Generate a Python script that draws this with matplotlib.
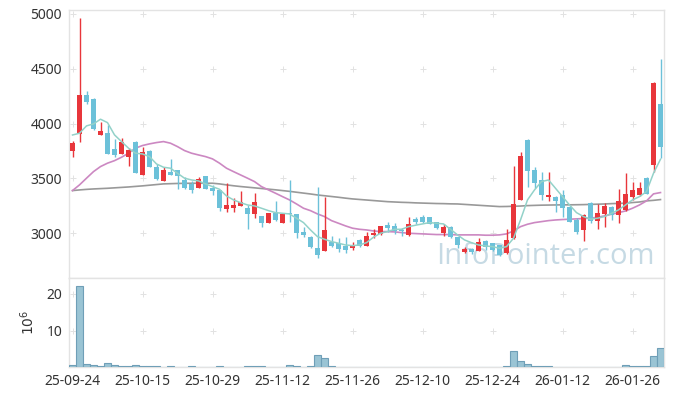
import matplotlib
matplotlib.use("Agg")
import matplotlib.pyplot as plt
import numpy as np

plt.rcParams['font.family'] = ['Noto Sans', 'DejaVu Sans']

dates = ["25-09-24", "25-09-25", "25-09-26", "25-09-29", "25-09-30",
         "25-10-01", "25-10-02", "25-10-10", "25-10-13", "25-10-14",
         "25-10-15", "25-10-16", "25-10-17", "25-10-20", "25-10-21",
         "25-10-22", "25-10-23", "25-10-24", "25-10-27", "25-10-28",
         "25-10-29", "25-10-30", "25-10-31", "25-11-03", "25-11-04",
         "25-11-05", "25-11-06", "25-11-07", "25-11-10", "25-11-11",
         "25-11-12", "25-11-13", "25-11-14", "25-11-17", "25-11-18",
         "25-11-19", "25-11-20", "25-11-21", "25-11-24", "25-11-25",
         "25-11-26", "25-11-27", "25-11-28", "25-12-01", "25-12-02",
         "25-12-03", "25-12-04", "25-12-05", "25-12-08", "25-12-09",
         "25-12-10", "25-12-11", "25-12-12", "25-12-15", "25-12-16",
         "25-12-17", "25-12-18", "25-12-19", "25-12-22", "25-12-23",
         "25-12-24", "25-12-26", "25-12-29", "25-12-30", "26-01-02",
         "26-01-05", "26-01-06", "26-01-07", "26-01-08", "26-01-09",
         "26-01-12", "26-01-13", "26-01-14", "26-01-15", "26-01-16",
         "26-01-19", "26-01-20", "26-01-21", "26-01-22", "26-01-23",
         "26-01-26", "26-01-27", "26-01-28", "26-01-29", "26-01-30"]

opens = [3754, 3903, 4259, 4225, 3900, 3915, 3766, 3726, 3699, 3830,
         3535, 3751, 3605, 3480, 3559, 3578, 3486, 3450, 3416, 3523,
         3411, 3395, 3222, 3234, 3249, 3231, 3179, 3158, 3097, 3188,
         3097, 3186, 3176, 3015, 2969, 2863, 2838, 2924, 2909, 2884,
         2869, 2942, 2887, 2982, 2991, 3076, 3067, 3030, 2985, 3130,
         3152, 3146, 3100, 3000, 3058, 2964, 2827, 2858, 2841, 2930,
         2909, 2890, 2818, 2954, 3304, 3851, 3578, 3486, 3328, 3334,
         3349, 3240, 3125, 3030, 3279, 3115, 3176, 3240, 3170, 3213,
         3328, 3352, 3505, 3626, 4180]
highs = [3840, 4962, 4298, 4230, 4018, 3988, 3858, 3867, 3776, 3842,
         3785, 3755, 3635, 3602, 3675, 3580, 3511, 3477, 3511, 3525,
         3441, 3398, 3456, 3319, 3389, 3258, 3365, 3160, 3185, 3297,
         3180, 3484, 3180, 3060, 2972, 3420, 3334, 2978, 2954, 2969,
         2924, 2945, 3015, 3036, 3070, 3106, 3097, 3050, 3152, 3152,
         3165, 3150, 3105, 3085, 3062, 2968, 2878, 2868, 2954, 2940,
         2915, 2895, 3036, 3610, 3742, 3855, 3602, 3562, 3556, 3340,
         3390, 3245, 3135, 3175, 3282, 3267, 3279, 3245, 3401, 3547,
         3471, 3471, 3510, 4380, 4588]
lows = [3695, 3836, 4177, 3945, 3898, 3720, 3699, 3720, 3614, 3545,
        3530, 3600, 3484, 3475, 3530, 3401, 3401, 3365, 3410, 3400,
        3349, 3206, 3192, 3197, 3245, 3039, 3142, 3055, 3095, 3115,
        3094, 3106, 2954, 2969, 2863, 2772, 2835, 2875, 2832, 2818,
        2848, 2878, 2885, 2960, 2988, 3015, 2994, 2975, 2975, 3082,
        3094, 3080, 3036, 2975, 2960, 2863, 2820, 2811, 2838, 2845,
        2835, 2795, 2815, 2950, 3300, 3425, 3410, 3304, 3297, 3197,
        3152, 3100, 2990, 2928, 3090, 3036, 3060, 3120, 3091, 3205,
        3300, 3340, 3360, 3558, 3690]
closes = [3827, 4262, 4201, 3949, 3933, 3726, 3714, 3833, 3763, 3553,
          3739, 3608, 3495, 3580, 3535, 3523, 3416, 3395, 3493, 3407,
          3386, 3234, 3258, 3258, 3286, 3179, 3286, 3097, 3182, 3121,
          3176, 3178, 3005, 2985, 2878, 2802, 3030, 2884, 2860, 2848,
          2884, 2885, 2975, 3000, 3067, 3051, 3024, 3018, 3085, 3103,
          3106, 3088, 3050, 3055, 2967, 2893, 2860, 2832, 2918, 2872,
          2850, 2802, 2939, 3267, 3708, 3571, 3462, 3349, 3349, 3297,
          3234, 3106, 3015, 3167, 3115, 3185, 3249, 3170, 3296, 3359,
          3395, 3416, 3362, 4374, 3790]

ma5 = [3896, 3912, 3979, 3997, 4040, 4009, 3897, 3836, 3776, 3730,
       3723, 3699, 3632, 3602, 3593, 3547, 3502, 3486, 3477, 3450,
       3425, 3401, 3340, 3304, 3279, 3258, 3249, 3228, 3206, 3188,
       3182, 3176, 3137, 3097, 3030, 2969, 2945, 2924, 2909, 2893,
       2887, 2893, 2914, 2964, 3000, 3015, 3036, 3036, 3060, 3073,
       3085, 3097, 3091, 3085, 3036, 2985, 2939, 2914, 2893, 2884,
       2878, 2863, 2878, 2954, 3121, 3304, 3395, 3471, 3486, 3410,
       3334, 3258, 3188, 3152, 3128, 3137, 3152, 3182, 3213, 3258,
       3304, 3334, 3380, 3547, 3675]
ma20 = [3389, 3441, 3502, 3562, 3608, 3639, 3662, 3693, 3730, 3776,
        3800, 3815, 3827, 3836, 3821, 3790, 3754, 3730, 3714, 3699,
        3678, 3639, 3593, 3562, 3532, 3502, 3471, 3425, 3395, 3365,
        3334, 3304, 3267, 3228, 3206, 3176, 3152, 3115, 3091, 3067,
        3046, 3036, 3030, 3021, 3015, 3015, 3012, 3006, 3000, 2997,
        2994, 2991, 2988, 2988, 2988, 2985, 2985, 2985, 2985, 2982,
        2982, 2985, 2994, 3021, 3060, 3082, 3097, 3106, 3115, 3121,
        3125, 3128, 3131, 3134, 3137, 3146, 3158, 3173, 3188, 3203,
        3228, 3258, 3295, 3359, 3371]
ma60 = [3389, 3395, 3400, 3404, 3407, 3410, 3414, 3418, 3422, 3427,
        3432, 3438, 3444, 3450, 3452, 3454, 3455, 3456, 3456, 3456,
        3456, 3450, 3441, 3433, 3426, 3420, 3414, 3408, 3402, 3396,
        3389, 3382, 3374, 3366, 3358, 3349, 3342, 3335, 3328, 3320,
        3313, 3308, 3303, 3298, 3293, 3288, 3285, 3282, 3280, 3277,
        3275, 3273, 3271, 3270, 3268, 3267, 3263, 3259, 3255, 3251,
        3247, 3243, 3244, 3246, 3248, 3252, 3254, 3256, 3257, 3258,
        3259, 3259, 3260, 3261, 3263, 3265, 3267, 3270, 3272, 3274,
        3280, 3285, 3295, 3300, 3307]
volume = [0.55, 22.1, 0.8, 0.5, 0.25, 1.1, 0.6, 0.25, 0.25, 0.5,
          0.25, 0.25, 0.25, 0.05, 0.25, 0.05, 0.05, 0.25, 0.05, 0.05,
          0.05, 0.25, 0.05, 0.05, 0.05, 0.25, 0.25, 0.25, 0.05, 0.05,
          0.05, 0.55, 0.25, 0.05, 0.25, 3.3, 2.45, 0.25, 0.05, 0.05,
          0.05, 0.05, 0.05, 0.05, 0.05, 0.05, 0.05, 0.05, 0.05, 0.05,
          0.05, 0.05, 0.05, 0.05, 0.05, 0.05, 0.05, 0.05, 0.05, 0.05,
          0.05, 0.05, 0.25, 4.45, 1.7, 0.8, 0.25, 0.25, 0.25, 0.05,
          0.2, 0.2, 0.05, 0.2, 0.2, 0.05, 0.2, 0.05, 0.2, 0.5,
          0.25, 0.25, 0.25, 3.0, 5.2]

price_ticks = [3000, 3500, 4000, 4500, 5000]
vol_ticks = [10, 20]
tick_idx = list(range(0, len(dates), 10))

UP = '#e8363b'
DOWN = '#6cc1d9'
GRID = '#e2e2e2'
SPINE = '#e3e3e3'
TXT = '#333333'

fig = plt.figure(figsize=(6.73, 3.96), dpi=100)
ax = fig.add_axes([69 / 673, 1 - 278.3 / 396, 595 / 673, (278.3 - 10) / 396])
axv = fig.add_axes([69 / 673, 1 - 367.3 / 396, 595 / 673, (367.3 - 278.3) / 396], sharex=ax)

x = np.arange(len(dates))
o = np.array(opens, float); c = np.array(closes, float)
h = np.array(highs, float); l = np.array(lows, float)
up = c >= o
col = np.where(up, UP, DOWN)

ax.text(0.80, 0.08, "InfoPointer.com", transform=ax.transAxes, ha='center', va='center',
        fontsize=21, color='#c6dae4', zorder=0.5, family=['Open Sans', 'DejaVu Sans'])

ax.vlines(x, l, h, colors=col, linewidth=1.0, zorder=3)
body = np.where(np.abs(c - o) < 8, 8, c - o)
bottom = np.where(np.abs(c - o) < 8, (o + c) / 2 - 4, o)
ax.bar(x, body, bottom=bottom, width=0.72, color=col, zorder=4, linewidth=0)

ax.plot(x, ma60, color='#999999', lw=1.2, zorder=2)
ax.plot(x, ma20, color='#cc88c2', lw=1.2, zorder=2)
ax.plot(x, ma5, color='#93d2c9', lw=1.1, zorder=5)

ax.set_ylim(2589, 5036)
ax.set_xlim(-0.5, len(dates) - 0.5)
ax.set_yticks(price_ticks)
ax.set_yticklabels([str(t) for t in price_ticks])

axv.bar(x, volume, width=1.0, color='#9ac4d4', edgecolor='#6f9fb7', linewidth=0.8, zorder=3)
axv.set_ylim(0, 24.25)
axv.set_yticks(vol_ticks)
axv.set_yticklabels([str(t) for t in vol_ticks])
axv.set_ylabel('$10^6$', fontsize=10, color=TXT, labelpad=6)
axv.set_xticks(tick_idx)
axv.set_xticklabels([dates[i] for i in tick_idx])

for a, yt in ((ax, price_ticks), (axv, vol_ticks)):
    for s in a.spines.values():
        s.set_color(SPINE)
        s.set_linewidth(1.0)
    a.tick_params(length=0, labelsize=10, colors=TXT, pad=5)
    gx, gy = np.meshgrid(tick_idx, yt)
    a.scatter(gx.ravel(), gy.ravel(), marker='+', s=14, color=GRID, linewidths=0.7, zorder=1)
plt.setp(ax.get_xticklabels(), visible=False)

fig.savefig('out.png', dpi=100)
